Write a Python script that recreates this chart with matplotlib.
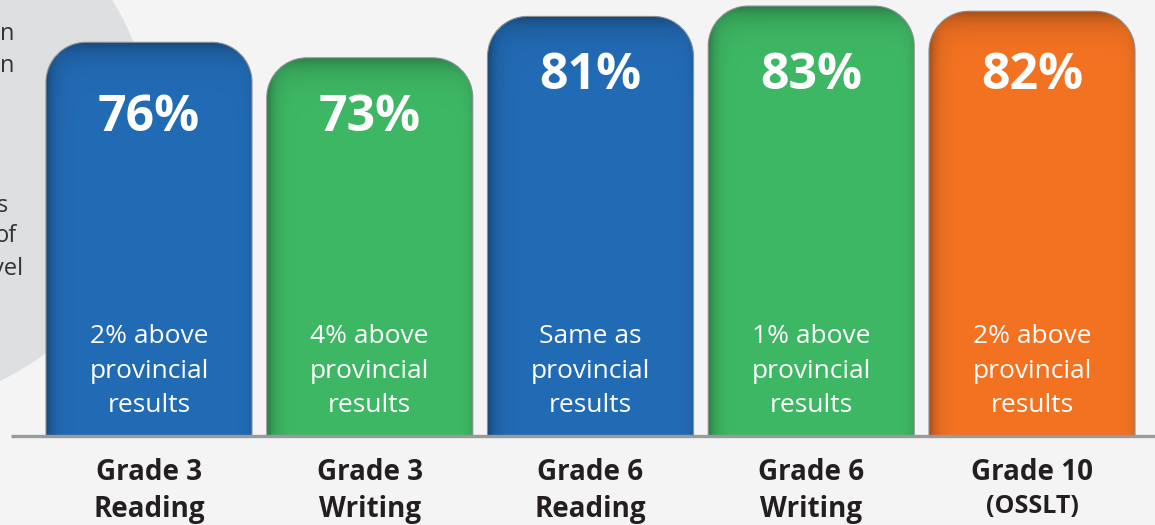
import numpy as np
import matplotlib
matplotlib.use("Agg")
import matplotlib.pyplot as plt
from matplotlib.patches import Circle, PathPatch
from matplotlib.path import Path

plt.rcParams['font.family'] = ['Open Sans', 'DejaVu Sans']

# data
categories = [("Grade 3", "Reading"), ("Grade 3", "Writing"), ("Grade 6", "Reading"),
              ("Grade 6", "Writing"), ("Grade 10", "(OSSLT)")]
values = [76, 73, 81, 83, 82]
notes = [("2% above", "provincial", "results"),
         ("4% above", "provincial", "results"),
         ("Same as", "provincial", "results"),
         ("1% above", "provincial", "results"),
         ("2% above", "provincial", "results")]
colors = ["#226bb5", "#3eb864", "#226bb5", "#3eb864", "#f47322"]

# layout (pixels -> data)
W, H = 1155, 525
px_per_pct = 5.18
base_px = 436
step_px = 220.75
first_px = 149
bar_w = 206 / step_px
rad_px = 40
bg = "#f3f4f3"

fig = plt.figure(figsize=(W / 100, H / 100), dpi=100)
fig.patch.set_facecolor(bg)

# background with the big grey circle and cut-off side text
bgax = fig.add_axes([0, 0, 1, 1])
bgax.set_xlim(0, W)
bgax.set_ylim(H, 0)
bgax.axis('off')
bgax.add_patch(Circle((-115, 140), 267, color="#dedfe1", lw=0))
for txt, xr, yb in [("n", 14, 40), ("n", 14, 72), ("s", 8, 212), ("of", 17, 242), ("vel", 23, 275)]:
    bgax.text(xr, yb, txt, ha='right', va='baseline', fontsize=17, color="#333333")

ax = fig.add_axes([0, 0, 1, 1])
ax.set_facecolor('none')
ax.axis('off')
x_lo = -first_px / step_px
x_hi = (W - first_px) / step_px
y_hi = base_px / px_per_pct
y_lo = -(H - base_px) / px_per_pct

rx = rad_px / step_px
ry = rad_px / px_per_pct
k = 0.5523


def bar_path(x0, x1, top):
    verts = [(x0, 0), (x0, top - ry),
             (x0, top - ry + k * ry), (x0 + rx - k * rx, top), (x0 + rx, top),
             (x1 - rx, top),
             (x1 - rx + k * rx, top), (x1, top - ry + k * ry), (x1, top - ry),
             (x1, 0), (x0, 0)]
    codes = [Path.MOVETO, Path.LINETO,
             Path.CURVE4, Path.CURVE4, Path.CURVE4,
             Path.LINETO,
             Path.CURVE4, Path.CURVE4, Path.CURVE4,
             Path.LINETO, Path.CLOSEPOLY]
    return Path(verts, codes)


def shade_image(color, top):
    rgb = np.array(matplotlib.colors.to_rgb(color))
    nx = 206
    ny = int(top * px_per_pct)
    dx = np.arange(nx)[None, :]
    dy = np.arange(ny)[:, None]
    dark = (0.32 * np.exp(-dx / 7.0) + 0.10 * np.exp(-(nx - 1 - dx) / 5.0)
            + 0.32 * np.exp(-dy / 12.0))
    dark = np.clip(dark, 0, 0.45)
    img = rgb[None, None, :] * (1 - dark[..., None])
    return img


for i, (cat, v, note, c) in enumerate(zip(categories, values, notes, colors)):
    x0 = i - bar_w / 2
    x1 = i + bar_w / 2
    patch = PathPatch(bar_path(x0, x1, v), facecolor='none', edgecolor="#8a8d92", lw=0.8, zorder=3)
    ax.add_patch(patch)
    im = ax.imshow(shade_image(c, v), extent=[x0, x1, 0, v], origin='upper',
                   aspect='auto', zorder=2.5, interpolation='bilinear')
    im.set_clip_path(patch)

    # big percentage
    lab_y = 67.0 if v >= 80 else 58.9
    ax.text(i, lab_y, f"{v}%", ha='center', va='baseline', fontsize=36,
            fontweight='bold', color='white', zorder=5)
    # note lines
    for line, yb in zip(note, [17.95, 11.2, 4.63]):
        ax.text(i, yb, line, ha='center', va='baseline', fontsize=19,
                color='white', zorder=5)
    # category labels
    ax.text(i, -8.5, cat[0], ha='center', va='baseline', fontsize=20,
            fontweight='bold', color="#231f20")
    if cat[1].startswith("("):
        ax.text(i, -14.9, cat[1], ha='center', va='baseline', fontsize=18,
                fontweight='bold', color="#231f20")
    else:
        ax.text(i, -15.6, cat[1], ha='center', va='baseline', fontsize=20,
                fontweight='bold', color="#231f20")

# baseline
ax.plot([(11 - first_px) / step_px, x_hi], [0, 0], color="#999a9e", lw=2.4,
        solid_capstyle='butt', zorder=4)

ax.set_xlim(x_lo, x_hi)
ax.set_ylim(y_lo, y_hi)

fig.savefig("out.png", dpi=100, facecolor=bg)
